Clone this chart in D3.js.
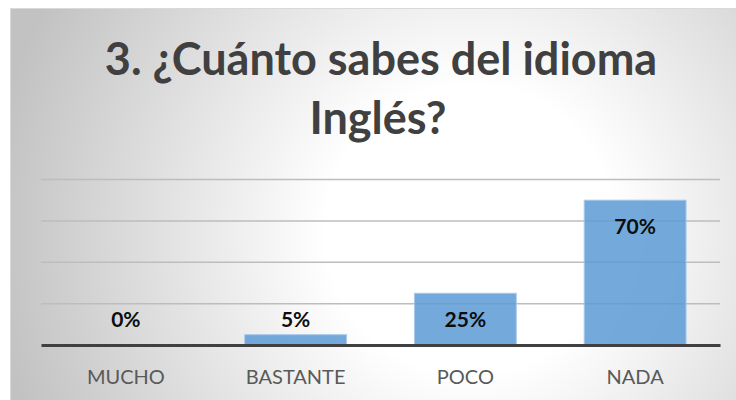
<!DOCTYPE html>
<html>
<head>
<meta charset="utf-8">
<script src="https://cdn.jsdelivr.net/npm/d3@7"></script>
<style>
  body { margin: 0; background: #fff; }
  svg { display: block; }
</style>
</head>
<body>
<svg id="chart" width="736" height="400"></svg>
<script>
var titleLines = ["3. ¿Cuánto sabes del idioma", "Inglés?"];
var categories = ["MUCHO", "BASTANTE", "POCO", "NADA"];
var values = [0, 5, 25, 70];
var yTicks = [0, 20, 40, 60, 80];

var svg = d3.select("#chart"),
    margin = {top: 179.5, right: 16, bottom: 55, left: 41},
    width = 736 - margin.left - margin.right,
    height = 345 - margin.top;

// background
var defs = svg.append("defs");
var grad = defs.append("radialGradient")
    .attr("id", "bg")
    .attr("gradientUnits", "userSpaceOnUse")
    .attr("cx", 470).attr("cy", 230).attr("r", 480);
grad.append("stop").attr("offset", "0").attr("stop-color", "#ffffff");
grad.append("stop").attr("offset", "0.3").attr("stop-color", "#ffffff");
grad.append("stop").attr("offset", "1").attr("stop-color", "#c2c2c2");

svg.append("rect")
    .attr("x", 10.5).attr("y", 8.5)
    .attr("width", 760).attr("height", 420)
    .attr("fill", "url(#bg)")
    .attr("stroke", "#d9d9d9");

// title
var title = svg.append("text")
    .attr("text-anchor", "middle")
    .attr("fill", "#404040")
    .style("font-family", "Lato, 'Open Sans', sans-serif")
    .style("font-weight", "bold")
    .style("font-size", "45px");
title.append("tspan").attr("x", 381).attr("y", 75).text(titleLines[0]);
title.append("tspan").attr("x", 378).attr("y", 134).text(titleLines[1]);

var g = svg.append("g").attr("transform", "translate(" + margin.left + "," + margin.top + ")");

var x = d3.scaleBand()
    .domain(categories)
    .range([0, width])
    .paddingInner(0.4)
    .paddingOuter(0.2);

var y = d3.scaleLinear()
    .domain([0, 80])
    .range([height, 0]);

// gridlines
g.append("g")
  .selectAll("line")
  .data(yTicks.slice(1))
  .enter()
  .append("line")
    .attr("x1", 0).attr("x2", width)
    .attr("y1", function(d) { return y(d); })
    .attr("y2", function(d) { return y(d); })
    .attr("stroke", "#bdbdbd")
    .attr("stroke-width", 1.5);

// bars
g.selectAll("rect.bar")
    .data(values)
    .enter()
    .append("rect")
      .attr("class", "bar")
      .attr("x", function(d, i) { return x(categories[i]); })
      .attr("y", function(d) { return y(d); })
      .attr("width", x.bandwidth())
      .attr("height", function(d) { return y(0) - y(d); })
      .attr("fill", "#5b9bd5")
      .attr("fill-opacity", 0.85)
      .attr("stroke", "#a9c9ea")
      .attr("stroke-width", 1);

// baseline axis
g.append("g")
    .attr("transform", "translate(0," + y(0) + ")")
    .call(d3.axisBottom(x).tickSize(0).tickPadding(0))
    .call(function(a) {
      a.select(".domain").attr("stroke", "#404040").attr("stroke-width", 3);
      a.selectAll("text")
        .attr("y", 39)
        .attr("dy", 0)
        .attr("fill", "#595959")
        .style("font-family", "Lato, 'Open Sans', sans-serif")
        .style("font-size", "20px");
    });

// value labels
g.selectAll("text.val")
    .data(values)
    .enter()
    .append("text")
      .attr("class", "val")
      .attr("x", function(d, i) { return x(categories[i]) + x.bandwidth() / 2; })
      .attr("y", function(d) { return Math.min(y(d) + 34, y(0) - 18); })
      .attr("text-anchor", "middle")
      .attr("fill", "#0d0d0d")
      .style("font-family", "Lato, 'Open Sans', sans-serif")
      .style("font-weight", "bold")
      .style("font-size", "21px")
      .text(function(d) { return d + "%"; });
</script>
</body>
</html>
